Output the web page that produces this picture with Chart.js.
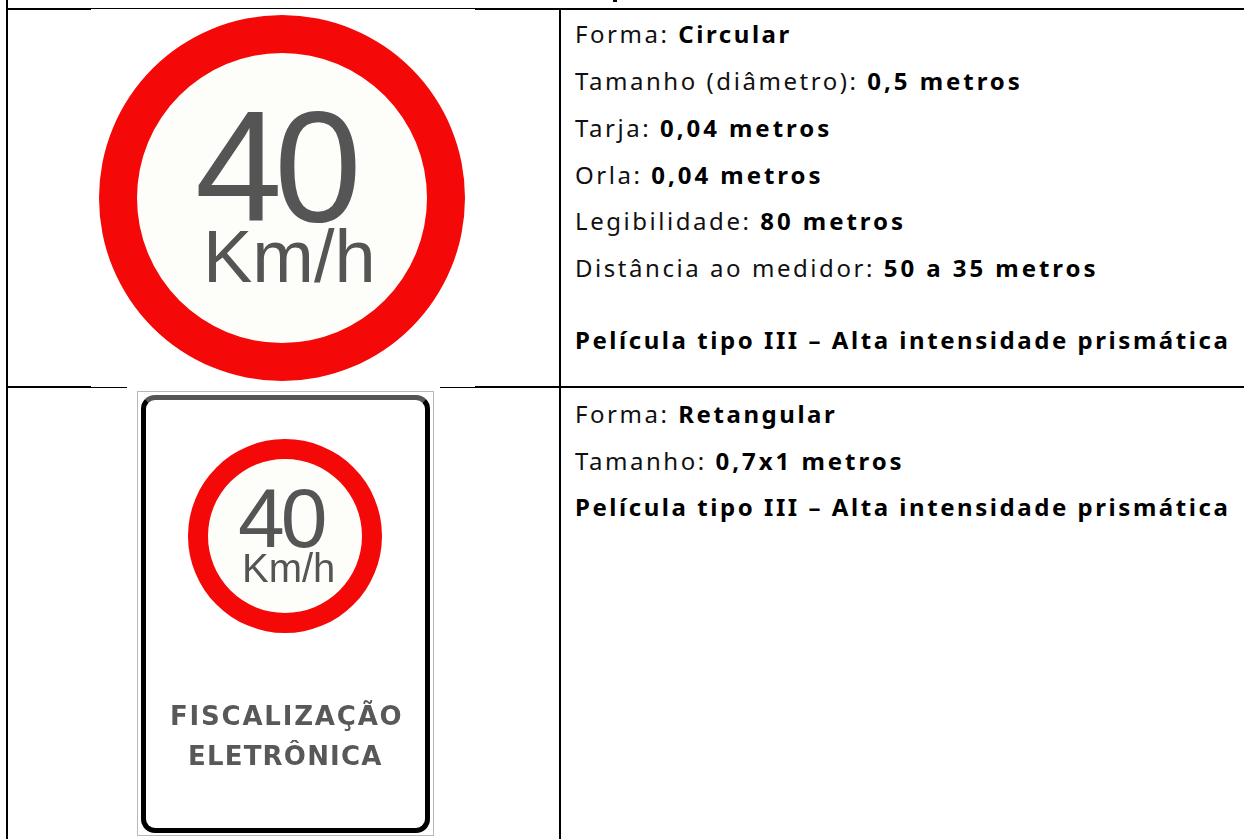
<!DOCTYPE html>
<html lang="pt">
<head>
<meta charset="utf-8">
<title>Placas</title>
<script src="https://cdn.jsdelivr.net/npm/chart.js@4"></script>
<style>
  html, body { margin: 0; padding: 0; background: #fff; }
  #page { position: relative; width: 1244px; height: 839px; overflow: hidden; }
  #page canvas, .rule, .sign, .txt, .spec { position: absolute; }
  #page canvas { filter: blur(0.5px); }
  .rule { background: #000; }
  .sign { box-sizing: border-box; }
  .txt { font-family: "Liberation Sans", Arial, sans-serif; color: #555; white-space: nowrap; line-height: 0.8; filter: blur(0.4px); }
  .digits { line-height: 0.76; }
  .plate { font-family: "DejaVu Sans", sans-serif; font-weight: bold; color: #585858; line-height: 1; }
  .spec { left: 575px; font-family: "Noto Sans", sans-serif; font-size: 24px; letter-spacing: 2.55px; color: #111; white-space: nowrap; line-height: 30px; }
  .spec b { color: #000; letter-spacing: 2.55px; }
  .spec b.measure { letter-spacing: 2.95px; }
</style>
</head>
<body>
<div id="page">
  <canvas id="ringLarge" width="366" height="366" style="left:99px;top:15px"></canvas>

  <div class="sign" style="left:137px;top:391px;width:297px;height:445px;border:1px solid #b8b8b8"></div>
  <div class="sign" style="left:141px;top:395px;width:289px;height:438px;border:5px solid #000;border-top-color:#555;border-radius:14px"></div>
  <canvas id="ringSmall" width="194" height="194" style="left:188px;top:439px"></canvas>

  <div id="specs"></div>
</div>

<script>
// valores
const circleSpecs = [
  ["Forma: ", "Circular"],
  ["Tamanho (diâmetro): ", "0,5 metros"],
  ["Tarja: ", "0,04 metros"],
  ["Orla: ", "0,04 metros"],
  ["Legibilidade: ", "80 metros"],
  ["Distância ao medidor: ", "50 a 35 metros"],
  ["", "Película tipo III – Alta intensidade prismática"]
];
const plateSpecs = [
  ["Forma: ", "Retangular"],
  ["Tamanho: ", "0,7x1 metros"],
  ["", "Película tipo III – Alta intensidade prismática"]
];
const circleBaselines = [43, 90, 137, 184, 230, 277, 349];
const plateBaselines = [423, 470, 516];

// espessura do anel / raio interno, em px
const ringLarge = [38, 145];
const ringSmall = [20, 77];
const ringColors = ["#f50808", "#fdfdfa"];

const speedLabel = "40";
const unitLabel = "Km/h";
const plateLines = ["FISCALIZAÇÃO", "ELETRÔNICA"];

function drawRing(id, weights) {
  const ctx = document.getElementById(id).getContext("2d");
  new Chart(ctx, {
    type: "doughnut",
    data: {
      labels: ["Orla", "Fundo"],
      datasets: weights.map((w, i) => ({
        data: [1],
        weight: w,
        backgroundColor: ringColors[i],
        borderWidth: 0
      }))
    },
    options: {
      responsive: false,
      animation: false,
      cutout: 0,
      layout: { padding: 0 },
      plugins: { legend: { display: false }, tooltip: { enabled: false } }
    }
  });
}

function addText(text, cls, left, top, size, extra) {
  const el = document.createElement("div");
  el.className = cls;
  el.textContent = text;
  el.style.left = left + "px";
  el.style.top = top + "px";
  el.style.fontSize = size + "px";
  if (extra) Object.assign(el.style, extra);
  document.getElementById("page").appendChild(el);
}

function addRule(left, top, width, height) {
  const el = document.createElement("div");
  el.className = "rule";
  el.style.cssText = `left:${left}px;top:${top}px;width:${width}px;height:${height}px;`;
  document.getElementById("page").appendChild(el);
}

function addSpecs(rows, baselines) {
  const box = document.getElementById("specs");
  rows.forEach((row, i) => {
    const el = document.createElement("div");
    el.className = "spec";
    el.style.top = (baselines[i] - 24) + "px";
    const cls = row[1].endsWith("metros") ? ' class="measure"' : "";
    el.innerHTML = row[0] + "<b" + cls + ">" + row[1] + "</b>";
    box.appendChild(el);
  });
}

drawRing("ringLarge", ringLarge);
drawRing("ringSmall", ringSmall);

addText(speedLabel, "txt digits", 195, 107, 157, { letterSpacing: "-8px" });
addText(unitLabel, "txt", 203, 227, 74);
addText(speedLabel, "txt digits", 238, 487, 84, { letterSpacing: "-4px" });
addText(unitLabel, "txt", 242, 552, 40);
addText(plateLines[0], "txt plate", 170, 703, 26, { letterSpacing: "1.8px" });
addText(plateLines[1], "txt plate", 188, 743, 26, { letterSpacing: "1.2px" });

addSpecs(circleSpecs, circleBaselines);
addSpecs(plateSpecs, plateBaselines);

// linhas da tabela
addRule(6, 0, 2, 839);
addRule(559, 9, 2, 830);
addRule(6, 8, 85, 2);
addRule(91, 8, 384, 1);
addRule(475, 8, 769, 2);
addRule(6, 386, 85, 2);
addRule(91, 387, 36, 1);
addRule(440, 387, 35, 1);
addRule(475, 386, 769, 2);
// resto do titulo cortado no topo
addRule(613, 0, 4, 2);
</script>
</body>
</html>
